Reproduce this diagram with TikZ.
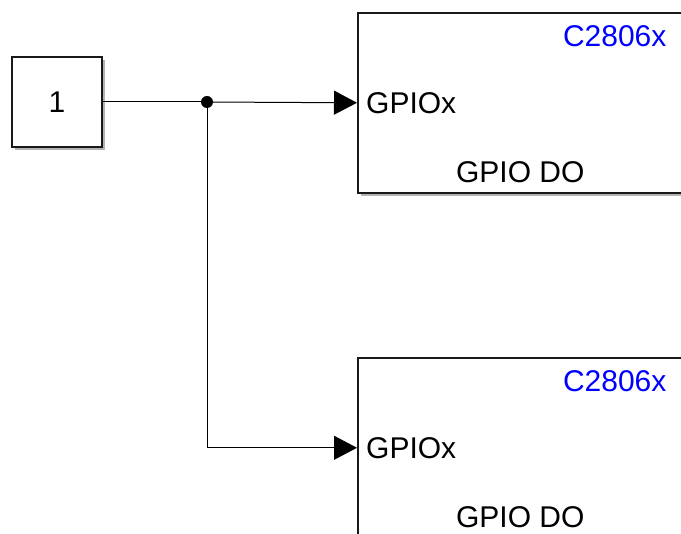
\documentclass[tikz,border=0pt]{standalone}
\usepackage{fontspec}
\setmainfont{Liberation Sans}
\usetikzlibrary{positioning}
\usetikzlibrary{arrows.meta}
\usetikzlibrary{shadows}

\begin{document}
\begin{tikzpicture}[x=1pt, y=-1pt,
        font=\fontsize{30}{35}\selectfont,
        blk/.style={draw=black!90, line width=1.6pt, fill=white,
            drop shadow={shadow xshift=3pt, shadow yshift=-3pt, fill=black!50, opacity=0.6}},
        sig/.style={line width=1pt, -{Triangle[length=23pt, width=24pt]}}]
        \clip (0,0) rectangle (681,534); % page size

        % Constant block
        \node[blk, minimum width=90pt, minimum height=90pt] (const) at (57,102) {1};

        % GPIO DO blocks
        \foreach \name/\ytop in {gpioTop/12, gpioBot/357} {
            \node[blk, anchor=north west, minimum width=325pt, minimum height=180pt] (\name) at (357,\ytop) {};
            \node[anchor=west, inner sep=0pt] at ([xshift=9pt]\name.west) {GPIOx}; % input port
            \node[anchor=north east, inner sep=0pt, text=blue] at ([xshift=-17pt, yshift=-13pt]\name.north east) {C2806x};
            \node[anchor=base, inner sep=0pt] at ([yshift=11pt]\name.south) {GPIO DO};
        }

        % Signal lines
        \coordinate (split) at (207,102); % branch point
        \draw[line width=1pt] (const.east) -- (split);
        \draw[sig] (split) -- (gpioTop.west);
        \draw[sig] (split) |- (gpioBot.west);
        \fill (split) circle (6pt);
    \end{tikzpicture}
\end{document}
